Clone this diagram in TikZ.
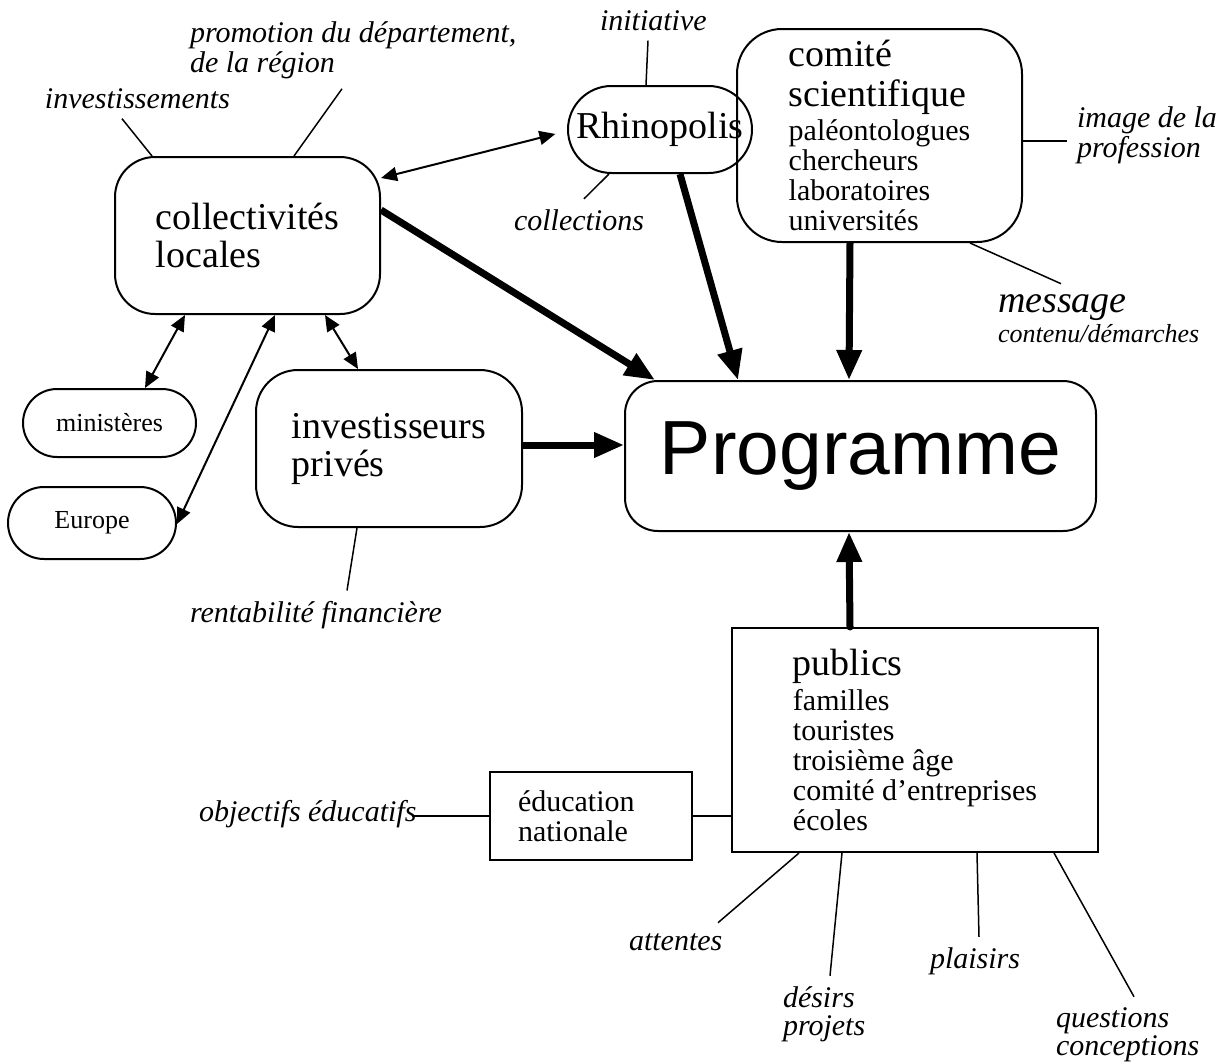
\documentclass[tikz,border=0pt]{standalone}
\usepackage{fontspec}
\setmainfont{Liberation Serif}
\newfontfamily\progfont{Liberation Sans}
\usetikzlibrary{arrows.meta, positioning}
\newcommand{\grand}{\fontsize{19}{19}\selectfont}
\newcommand{\petit}{\fontsize{13}{13}\selectfont}

\begin{document}
\begin{tikzpicture}[x=0.5pt, y=-0.5pt,
    box/.style={draw, line width=1pt, align=left, inner sep=0pt},
    bigtext/.style={font=\grand},
    smalltext/.style={font=\fontsize{15}{15}\selectfont},
    note/.style={anchor=text, align=left, inner sep=5pt, font=\fontsize{15}{15}\selectfont\itshape},
    link/.style={line width=0.75pt},
    dbl/.style={{Triangle[length=8pt,width=7pt]}-{Triangle[length=8pt,width=7pt]}, line width=1pt},
    big/.style={-{Triangle[length=15pt,width=12pt]}, line width=3.5pt}]
    \useasboundingbox (0,0) rectangle (1227,1061);

    % Draw the actors
    \node[box, bigtext, rounded corners=20pt, minimum width=132.5pt, minimum height=78.5pt] (colloc) at (247.5,235.5) {collectivités\\locales};
    \node[box, bigtext, rounded corners=21.75pt, minimum width=92pt, minimum height=43.5pt] (rhino) at (660,129.5) {Rhinopolis};
    \node[box, smalltext, rounded corners=22.5pt, minimum width=142.5pt, minimum height=106.5pt] (comite) at (879.5,135.5)
        {{\grand comité}\\[5pt]{\grand scientifique}\\[2pt]paléontologues\\chercheurs\\laboratoires\\universités};
    \node[box, rounded corners=16.5pt, minimum width=235.5pt, minimum height=75pt, font=\progfont\fontsize{38.4}{38.4}\selectfont] (prog) at (860.5,456) {Programme};
    \node[box, bigtext, rounded corners=21pt, minimum width=133pt, minimum height=78.5pt] (invest) at (389,448.5) {investisseurs\\privés};
    \node[box, font=\petit, rounded corners=17pt, minimum width=86.5pt, minimum height=34pt] (minis) at (109.5,423) {ministères};
    \node[box, font=\petit, rounded corners=18pt, minimum width=84pt, minimum height=36pt] (europe) at (92,523) {Europe};
    \node[box, smalltext, minimum width=183pt, minimum height=112pt] (publics) at (915,740)
        {{\grand publics}\\[2.5pt]familles\\touristes\\troisième âge\\comité d’entreprises\\écoles};
    \node[box, smalltext, text width=73pt, minimum width=101pt, minimum height=44pt] (educ) at (591,816) {éducation\\nationale};

    % Draw the stakes (multi-line ones sit on their last baseline)
    \node[note] (invlab) at (45,108) {investissements};
    \node[note] (promlab) at (190,72) {promotion du département,\\de la région};
    \node[note] (initlab) at (600,30) {initiative};
    \node[note] (colllab) at (514,230) {collections};
    \node[note] (imglab) at (1077,157) {image de la\\profession};
    \node[note] (msglab) at (998,342) {{\grand message}\\{\petit contenu/démarches}};
    \node[note] (rentlab) at (190,622) {rentabilité financière};
    \node[note] (objlab) at (199,821) {objectifs éducatifs};
    \node[note] (attlab) at (629,950) {attentes};
    \node[note] (deslab) at (783,1035) {désirs\\[-1pt]projets};
    \node[note] (plalab) at (930,968) {plaisirs};
    \node[note] (queslab) at (1056,1055) {questions\\[-1pt]conceptions};

    % Exchanges
    \draw[dbl] (minis.north -| 145,0) -- (colloc.south -| 185,0);
    \draw[dbl] (europe.east |- 0,524) -- (colloc.south -| 275,0);
    \draw[dbl] (colloc.south -| 325,0) -- (invest.north -| 358,0);
    \draw[dbl, shorten >=6pt] (colloc.east |- 0,178) -- (rhino.west |- 0,131);

    % Inputs to the programme
    \draw[big] (colloc.east |- 0,210) -- (prog.north -| 655,0);
    \draw[big] (rhino.south -| 680,0) -- (prog.north -| 738,0);
    \draw[big] (comite.south -| 850,0) -- (prog.north -| 849,0);
    \draw[big] (invest.east |- 0,445) -- (prog.west |- 0,445);
    \draw[big, line cap=round] (publics.north -| 850,0) -- (prog.south -| 849,0);

    % Leader lines
    \draw[link] (colloc.north -| 152,0) -- (invlab.south -| 122,0);
    \draw[link] (colloc.north -| 294,0) -- (promlab.south -| 342,0);
    \draw[link] (rhino.north -| 646,0) -- (initlab.south -| 648,0);
    \draw[link] (rhino.south -| 609,0) -- (colllab.north -| 584,0);
    \draw[link] (comite.east |- 0,141) -- (imglab.west |- 0,141);
    \draw[link] (comite.south -| 970,0) -- (msglab.north -| 1061,0);
    \draw[link] (invest.south -| 357,0) -- (rentlab.north -| 347,0);
    \draw[link, shorten >=-7.5pt] (educ.west) -- (objlab.east |- educ.west);
    \draw[link] (educ.east) -- (publics.west |- educ.east);
    \draw[link] (publics.south -| 799,0) -- (attlab.north -| 718,0);
    \draw[link] (publics.south -| 842,0) -- (deslab.north -| 830,0);
    \draw[link] (publics.south -| 977,0) -- (plalab.north -| 979,0);
    \draw[link] (publics.south -| 1054,0) -- (queslab.north -| 1134,0);
\end{tikzpicture}
\end{document}
